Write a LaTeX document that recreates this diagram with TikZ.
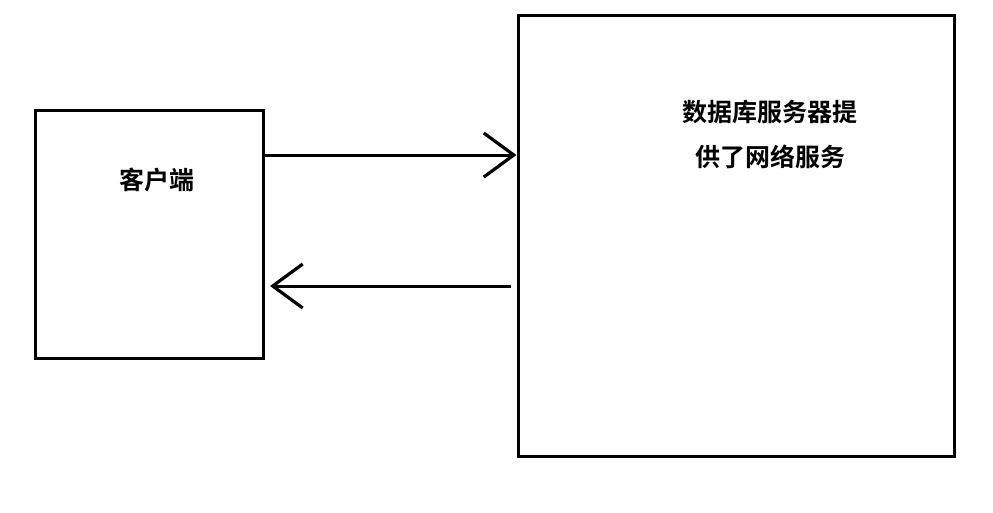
\documentclass[tikz,border=0pt]{standalone}
\usepackage{fontspec}
\newfontfamily\cjk{Noto Sans CJK SC}[BoldFont={Noto Sans CJK SC Bold}]
\usetikzlibrary{arrows.meta}
\begin{document}
\begin{tikzpicture}[x=1pt,y=-1pt,
  boxstyle/.style={draw,line width=3pt,inner sep=0pt},
  lbl/.style={font=\cjk\bfseries\fontsize{25}{45}\selectfont,align=center,inner sep=0pt},
  conn/.style={line width=3pt,-{Straight Barb[length=30pt,width=44pt,line width=3.2pt]}}]
\useasboundingbox (0,0) rectangle (993,512);
\fill[white] (0,0) rectangle (993,512);
\node[boxstyle,minimum width=228pt,minimum height=248pt] (client) at (149,234) {};
\node[boxstyle,minimum width=436pt,minimum height=441pt] (server) at (736,235.5) {};
\node[lbl] (clientlbl) at (157,180) {客户端};
\node[lbl] (serverlbl) at (770,134.5) {数据库服务器提\\供了网络服务};
\coordinate (a1s) at (client.east |- 0,155);
\coordinate (a1e) at (server.west |- 0,155);
\coordinate (a2s) at (511,286);
\coordinate (a2e) at (270,286);
\draw[conn] (a1s) -- (a1e);
\draw[conn] (a2s) -- (a2e);
\end{tikzpicture}
\end{document}
